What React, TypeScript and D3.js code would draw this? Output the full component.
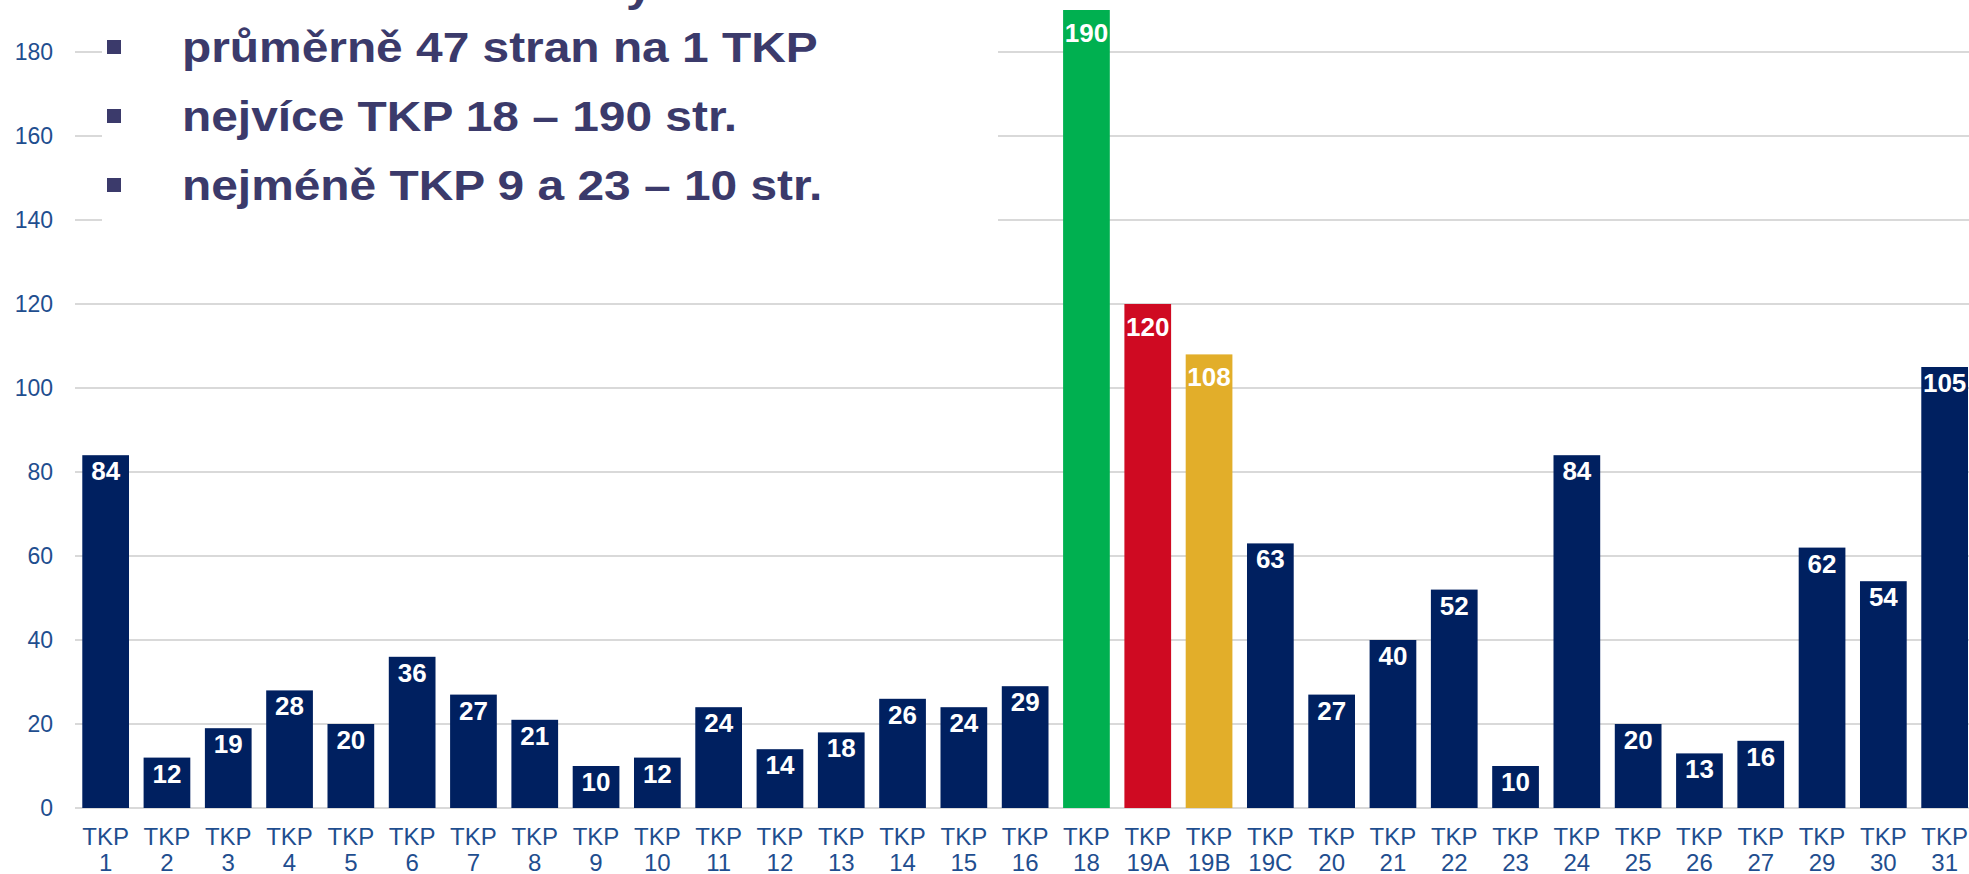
import React, { useRef, useEffect } from "react";
import * as d3 from "d3";

// categories (TKP numbers) and page counts
const categories = [
  "1", "2", "3", "4", "5", "6", "7", "8", "9", "10", "11", "12", "13", "14", "15", "16",
  "18", "19A", "19B", "19C", "20", "21", "22", "23", "24", "25", "26", "27", "29", "30", "31",
];
const pages = [
  84, 12, 19, 28, 20, 36, 27, 21, 10, 12, 24, 14, 18, 26, 24, 29,
  190, 120, 108, 63, 27, 40, 52, 10, 84, 20, 13, 16, 62, 54, 105,
];
const highlight: Record<string, string> = {
  "18": "#00b050",
  "19A": "#cf0a22",
  "19B": "#e2ae2a",
};
const yTicks = [0, 20, 40, 60, 80, 100, 120, 140, 160, 180];
const bullets = [
  "průměrně 47 stran na 1 TKP",
  "nejvíce TKP 18 – 190 str.",
  "nejméně TKP 9 a 23 – 10 str.",
];

const W = 1969;
const H = 874;
const FONT = "'Liberation Sans', Arial, sans-serif";

const App = () => {
  const ref = useRef<SVGSVGElement>(null);

  useEffect(() => {
    const svg = d3.select(ref.current);
    svg.selectAll("*").remove();

    const x = d3
      .scaleBand<string>()
      .domain(categories)
      .range([75, 75 + 31 * 61.3])
      .paddingInner(0.238)
      .paddingOuter(0.119);

    const y = d3.scaleLinear().domain([0, 200]).range([808, -32]);

    // gridlines
    svg
      .append("g")
      .selectAll("line")
      .data(yTicks)
      .join("line")
      .attr("x1", 75)
      .attr("x2", W)
      .attr("y1", (d) => y(d))
      .attr("y2", (d) => y(d))
      .attr("stroke", "#d9d9d9")
      .attr("stroke-width", 2);

    // y labels
    svg
      .append("g")
      .selectAll("text")
      .data(yTicks)
      .join("text")
      .attr("x", 53)
      .attr("y", (d) => y(d))
      .attr("dy", "0.36em")
      .attr("text-anchor", "end")
      .style("font-family", FONT)
      .style("font-size", "23px")
      .style("fill", "#1f4e8f")
      .text((d) => d);

    // bars
    const data = categories.map((c, i) => ({ c, v: pages[i] }));
    svg
      .append("g")
      .selectAll("rect")
      .data(data)
      .join("rect")
      .attr("x", (d) => x(d.c)!)
      .attr("width", x.bandwidth())
      .attr("y", (d) => y(d.v))
      .attr("height", (d) => y(0) - y(d.v))
      .style("fill", (d) => highlight[d.c] || "#002060");

    // value labels, inside end
    svg
      .append("g")
      .selectAll("text")
      .data(data)
      .join("text")
      .attr("x", (d) => x(d.c)! + x.bandwidth() / 2)
      .attr("y", (d) => y(d.v) + (highlight[d.c] ? 32 : 25))
      .attr("text-anchor", "middle")
      .style("font-family", FONT)
      .style("font-size", "26px")
      .style("font-weight", "bold")
      .style("fill", "#ffffff")
      .text((d) => d.v);

    // x labels
    const xl = svg
      .append("g")
      .selectAll("text")
      .data(categories)
      .join("text")
      .attr("text-anchor", "middle")
      .style("font-family", FONT)
      .style("font-size", "24px")
      .style("fill", "#1f4e8f");
    xl.append("tspan")
      .attr("x", (d) => x(d)! + x.bandwidth() / 2)
      .attr("y", 845)
      .text("TKP");
    xl.append("tspan")
      .attr("x", (d) => x(d)! + x.bandwidth() / 2)
      .attr("y", 871)
      .text((d) => d);

    // text box over the chart
    const box = svg.append("g");
    box
      .append("rect")
      .attr("x", 102)
      .attr("y", 0)
      .attr("width", 896)
      .attr("height", 240)
      .style("fill", "#ffffff");

    // tail of the cut-off heading line
    box
      .append("text")
      .attr("transform", "translate(626,1) scale(1.14,1)")
      .style("font-family", FONT)
      .style("font-size", "42px")
      .style("font-weight", "bold")
      .style("fill", "#3b3a6b")
      .text("y");

    bullets.forEach((t, i) => {
      const base = 62 + i * 69;
      box
        .append("rect")
        .attr("x", 107)
        .attr("y", base - 22)
        .attr("width", 14)
        .attr("height", 14)
        .style("fill", "#3b3a6b");
      box
        .append("text")
        .attr("transform", `translate(182,${base}) scale(1.14,1)`)
        .style("font-family", FONT)
        .style("font-size", "42px")
        .style("font-weight", "bold")
        .style("fill", "#3b3a6b")
        .text(t);
    });
  }, []);

  return (
    <svg
      ref={ref}
      width={W}
      height={H}
      style={{ position: "absolute", left: 0, top: 0, background: "#ffffff" }}
    ></svg>
  );
};

export default App;
